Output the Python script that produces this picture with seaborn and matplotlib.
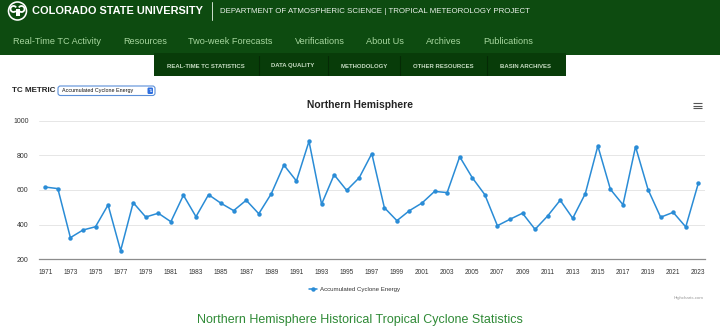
import matplotlib
matplotlib.use("Agg")
import matplotlib.pyplot as plt
import numpy as np
import pandas as pd
import seaborn as sns
from matplotlib.patches import Rectangle, FancyBboxPatch, Circle, Arc

# ---- data -------------------------------------------------------------
years = list(range(1971, 2024))
ace = [617, 608, 325, 369, 388, 514, 250, 527, 444, 466,
       417, 570, 446, 573, 523, 481, 541, 463, 579, 744,
       652, 881, 518, 688, 598, 671, 810, 498, 423, 481,
       525, 592, 585, 792, 671, 573, 394, 431, 466, 373,
       450, 541, 437, 579, 854, 604, 515, 850, 602, 443,
       471, 387, 639]
y_ticks = [200, 400, 600, 800, 1000]
series_name = "Accumulated Cyclone Energy"
chart_title = "Northern Hemisphere"
page_title = "Northern Hemisphere Historical Tropical Cyclone Statistics"
nav_items = ["Real-Time TC Activity", "Resources", "Two-week Forecasts",
             "Verifications", "About Us", "Archives", "Publications"]
sub_items = ["REAL-TIME TC STATISTICS", "DATA QUALITY", "METHODOLOGY",
             "OTHER RESOURCES", "BASIN ARCHIVES"]

# ---- style ------------------------------------------------------------
sns.set_theme(style="white")
plt.rcParams["font.family"] = ["Liberation Sans", "DejaVu Sans"]

W, H = 720, 332
fig = plt.figure(figsize=(W / 100, H / 100), dpi=100)
fig.patch.set_facecolor("white")

# page layer in pixel coordinates
page = fig.add_axes([0, 0, 1, 1])
page.set_xlim(0, W)
page.set_ylim(H, 0)
page.axis("off")

HEADER = "#0d4b10"
SUBMENU = "#083c09"
page.add_patch(Rectangle((0, 0), W, 55, color=HEADER, lw=0))
page.add_patch(Rectangle((154, 53), 412, 22.5, color=SUBMENU, lw=0))
for sx in [259, 328, 400, 487]:
    page.plot([sx, sx], [56, 75], color="#052a05", lw=0.8)

# logo
page.add_patch(Circle((17.5, 11), 9.8, color="white", lw=0))
page.add_patch(Circle((17.5, 11), 8.2, color=HEADER, lw=0))
page.add_patch(Arc((13.5, 9), 6, 6, theta1=40, theta2=330, color="white", lw=1.3))
page.add_patch(Arc((21.5, 9), 6, 6, theta1=210, theta2=500, color="white", lw=1.3))
page.add_patch(Rectangle((15.5, 9), 4, 7, color="white", lw=0))

page.text(32, 11, "COLORADO STATE UNIVERSITY", color="white", fontsize=7.9,
          fontweight="bold", va="center", ha="left")
page.plot([212, 212], [2, 20], color="#cfe0cf", lw=0.7)
page.text(220, 11.5, "DEPARTMENT OF ATMOSPHERIC SCIENCE | TROPICAL METEOROLOGY PROJECT",
          color="#e8f0e8", fontsize=5.65, va="center", ha="left")

nav_x = [13, 123, 188, 295, 366, 426, 483]
for nx, label in zip(nav_x, nav_items):
    page.text(nx, 42, label, color="#a6d69e", fontsize=6.6, va="center", ha="left")

sub_x = [206, 293, 364, 443, 526]
for sx, label in zip(sub_x, sub_items):
    page.text(sx, 66, label, color="#c7dcc3", fontsize=4.3, fontweight="bold",
              va="center", ha="center")

# metric selector
page.text(12, 90.5, "TC METRIC", color="#222222", fontsize=5.8, fontweight="bold",
          va="center", ha="left")
page.add_patch(FancyBboxPatch((58, 86), 97, 9.5, boxstyle="round,pad=0,rounding_size=2.5",
                              fc="white", ec="#5b8fd8", lw=0.8))
page.text(62, 90.8, series_name, color="#111111", fontsize=3.9, va="center", ha="left")
page.add_patch(FancyBboxPatch((147.5, 87.5), 5.5, 6.5, boxstyle="round,pad=0,rounding_size=1.2",
                              fc="#2f6fe0", ec="none"))
page.text(150.2, 90.8, "\u21c5", color="white", fontsize=3.2, va="center", ha="center",
          family=["DejaVu Sans"])

# chart title, menu icon, legend, credits, page heading
page.text(360, 105.5, chart_title, color="#222222", fontsize=7.4, fontweight="bold",
          va="center", ha="center")
for hy in [103.0, 105.5, 108.0]:
    page.plot([693, 702], [hy, hy], color="#555555", lw=0.8, solid_capstyle="butt")
page.text(704, 298, "Highcharts.com", color="#9a9a9a", fontsize=3.2, va="center", ha="right")
page.text(360, 320, page_title, color="#2f8a36", fontsize=9.0, va="center", ha="center")

# ---- chart ------------------------------------------------------------
LINE = "#2a8cd6"
px_left, px_right, px_top, px_bottom = 39, 704.6, 120.7, 259.3
ax = fig.add_axes([px_left / W, 1 - px_bottom / H,
                   (px_right - px_left) / W, (px_bottom - px_top) / H])
ax.set_facecolor("none")

df = pd.DataFrame({"idx": np.arange(len(years)), "year": years, "ace": ace})
sns.lineplot(data=df, x="idx", y="ace", ax=ax, color=LINE, lw=1.1,
             marker="o", markersize=3.2, markeredgewidth=0, label=series_name,
             legend=False)

ax.set_xlim(-0.5, len(years) - 0.5)
ax.set_ylim(200, 1000)
ax.set_yticks(y_ticks)
ax.set_yticklabels([str(v) for v in y_ticks])
tick_idx = list(range(0, len(years), 2))
ax.set_xticks(tick_idx)
ax.set_xticklabels([str(years[i]) for i in tick_idx])
ax.tick_params(axis="both", length=0, colors="#333333")
ax.tick_params(axis="y", labelsize=5.0, pad=7.5)
ax.tick_params(axis="x", labelsize=4.7, pad=7)
ax.set_xlabel("")
ax.set_ylabel("")
ax.grid(axis="y", color="#e6e6e6", lw=0.7)
ax.grid(axis="x", visible=False)
for side in ["top", "right", "left"]:
    ax.spines[side].set_visible(False)
ax.spines["bottom"].set_color("#8c8c8c")
ax.spines["bottom"].set_linewidth(0.9)

handles, labels = ax.get_legend_handles_labels()
fig.legend(handles, labels, loc="center", bbox_to_anchor=(355 / W, 1 - 289 / H),
           frameon=False, fontsize=4.4, handlelength=1.3, handletextpad=0.5,
           labelcolor="#333333")

fig.savefig("out.png", dpi=100, facecolor="white")
